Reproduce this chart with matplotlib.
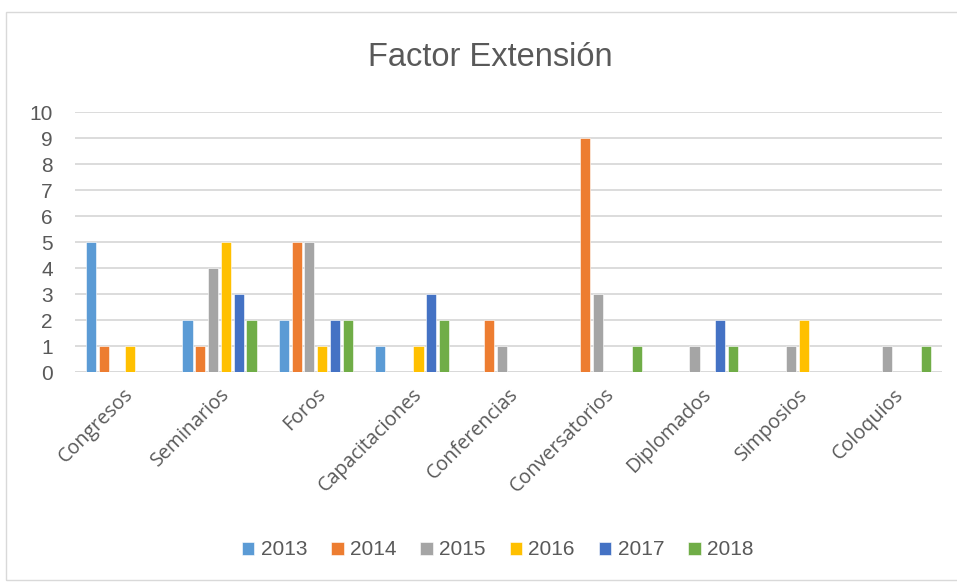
import numpy as np
import matplotlib
matplotlib.use("Agg")
import matplotlib.pyplot as plt
from matplotlib.patches import Rectangle

categorias = ["Congresos", "Seminarios", "Foros", "Capacitaciones", "Conferencias",
              "Conversatorios", "Diplomados", "Simposios", "Coloquios"]
anos = ["2013", "2014", "2015", "2016", "2017", "2018"]
v2013 = [5, 2, 2, 1, 0, 0, 0, 0, 0]
v2014 = [1, 1, 5, 0, 2, 9, 0, 0, 0]
v2015 = [0, 4, 5, 0, 1, 3, 1, 1, 1]
v2016 = [1, 5, 1, 1, 0, 0, 0, 2, 0]
v2017 = [0, 3, 2, 3, 0, 0, 2, 0, 0]
v2018 = [0, 2, 2, 2, 0, 1, 1, 0, 1]
series = [v2013, v2014, v2015, v2016, v2017, v2018]
cores = ["#5B9BD5", "#ED7D31", "#A5A5A5", "#FFC000", "#4472C4", "#70AD47"]

texto = "#595959"
plt.rcParams["font.family"] = ["Liberation Sans", "DejaVu Sans"]

fig = plt.figure(figsize=(9.57, 5.82), dpi=100)
ax = fig.add_axes([0.0784, 0.3608, 0.9056, 0.4462])

x = np.arange(len(categorias))
passo = 0.133
largura = 0.105
for i, (vals, cor, ano) in enumerate(zip(series, cores, anos)):
    ax.bar(x + (i - 2.5) * passo, vals, width=largura, color=cor, label=ano,
           edgecolor="white", linewidth=0.4, zorder=3)

ax.set_xlim(-0.5, len(categorias) - 0.5)
ax.set_ylim(0, 10)
ax.set_yticks(range(0, 11))
ax.grid(axis="y", color="#D9D9D9", linewidth=1.3, zorder=0)
ax.set_axisbelow(True)
for s in ax.spines.values():
    s.set_visible(False)
ax.axhline(0, color="#D9D9D9", linewidth=1.3, zorder=1)
ax.tick_params(length=0, labelsize=15, colors=texto)
ax.tick_params(axis="y", pad=16)
ax.set_xticks(x)
ax.set_xticklabels(categorias, rotation=45, ha="right", rotation_mode="anchor",
                   fontfamily="Open Sans", fontsize=14.2)
ax.tick_params(axis="x", pad=9)

fig.text(0.512, 0.902, "Factor Extensión", ha="center", va="center",
         fontsize=23.5, color=texto)

fig.legend(loc="center", bbox_to_anchor=(0.52, 0.055), ncol=6, frameon=False,
           fontsize=15, handlelength=0.6, handleheight=0.6, handletextpad=0.3,
           columnspacing=1.15, labelcolor=texto)

fig.patches.append(Rectangle((0.006, 0.003), 1.2, 0.976, transform=fig.transFigure,
                             fill=False, edgecolor="#D9D9D9", linewidth=1))

fig.savefig("out.png", dpi=100)
